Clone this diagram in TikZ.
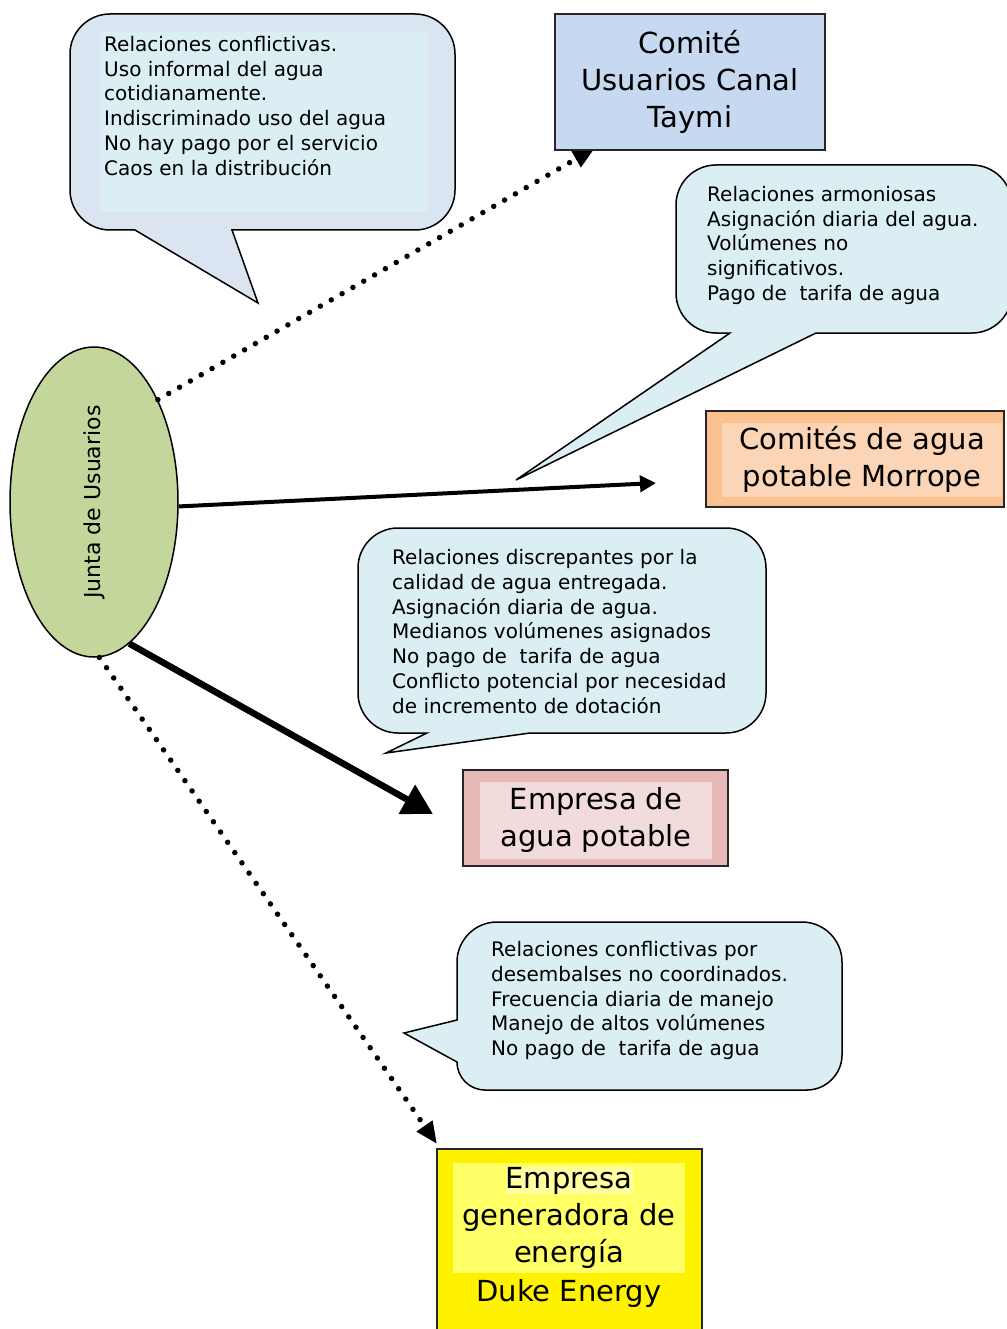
\documentclass[tikz,border=0pt]{standalone}
\usepackage{fontspec}
\setmainfont{DejaVu Sans}
\usetikzlibrary{arrows.meta}
\usetikzlibrary{shapes.geometric}
\definecolor{bubblegray}{HTML}{DBE5F1}
\definecolor{bubbleblue}{HTML}{DAEEF3}
\definecolor{taymiblue}{HTML}{C6D9F1}
\definecolor{morouter}{HTML}{FAC090}
\definecolor{morinner}{HTML}{FBD5B5}
\definecolor{aguouter}{HTML}{E6B9B8}
\definecolor{aguinner}{HTML}{F2DCDB}
\definecolor{juntagreen}{HTML}{C3D69B}
\definecolor{dukinner}{HTML}{FFFF66}
\definecolor{duklight}{HTML}{FFFFA0}
\setlength{\fboxsep}{0pt}
\tikzset{
    bubble/.style={draw=black, line width=1.5pt, fill=bubbleblue},
    note/.style={anchor=north west, inner sep=0pt, align=left,
        font=\fontsize{20}{24.8}\selectfont},
    actor/.style={draw=black!85, line width=1.8pt, inner sep=0pt},
    boxlabel/.style={inner sep=0pt, align=center,
        font=\fontsize{29}{37}\selectfont},
    dots/.style={line width=5.5pt, line cap=round, dash pattern=on 0pt off 12.5pt}
}
\begin{document}
\begin{tikzpicture}[x=1pt,y=-1pt]
    \useasboundingbox (0,0) rectangle (1006,1329);

    % callouts
    \draw[bubble, fill=bubblegray] (232,230) -- (258,303) -- (135,230) -- (110,230) .. controls (88,230) and (70,212) .. (70,190) -- (70,54) .. controls (70,32) and (88,14) .. (110,14) -- (415,14) .. controls (437,14) and (455,32) .. (455,54) -- (455,190) .. controls (455,212) and (437,230) .. (415,230) -- cycle;
    \fill[bubbleblue] (100,32) rectangle (428,212);
    \node[note] (nTaymi) at (104,36) {Relaciones conflictivas.\\Uso informal del agua\\cotidianamente.\\Indiscriminado uso del agua\\No hay pago por el servicio\\Caos en la distribución};

    \draw[bubble] (730,333) -- (516,480) -- (816,333) -- (972,333) .. controls (994,333) and (1012,315) .. (1012,293) -- (1012,205) .. controls (1012,183) and (994,165) .. (972,165) -- (716,165) .. controls (694,165) and (676,183) .. (676,205) -- (676,293) .. controls (676,315) and (694,333) .. (716,333) -- cycle;
    \node[note] (nMorrope) at (707,186) {Relaciones armoniosas\\Asignación diaria del agua.\\Volúmenes no\\significativos.\\Pago de\ \ tarifa de agua};

    \draw[bubble] (427,733) -- (386,753) -- (530,733) -- (726,733) .. controls (748,733) and (766,715) .. (766,693) -- (766,568) .. controls (766,546) and (748,528) .. (726,528) -- (398,528) .. controls (376,528) and (358,546) .. (358,568) -- (358,693) .. controls (358,715) and (376,733) .. (398,733) -- cycle;
    \node[note] (nAgua) at (392,549) {Relaciones discrepantes por la\\calidad de agua entregada.\\Asignación diaria de agua.\\Medianos volúmenes asignados\\No pago de\ \ tarifa de agua\\Conflicto potencial por necesidad\\de incremento de dotación};

    \draw[bubble] (457,1062) -- (404,1033) -- (457,1020) -- (457,962) .. controls (457,940) and (475,922) .. (497,922) -- (802,922) .. controls (824,922) and (842,940) .. (842,962) -- (842,1055) .. controls (842,1074) and (826,1090) .. (807,1090) -- (485,1090) .. controls (469.5,1090) and (457,1077.5) .. (457,1062) -- cycle;
    \node[note] (nDuke) at (491,941) {Relaciones conflictivas por\\desembalses no coordinados.\\Frecuencia diaria de manejo\\Manejo de altos volúmenes\\No pago de\ \ tarifa de agua};

    % junta
    \node[ellipse, draw, line width=1.5pt, fill=juntagreen, minimum width=168, minimum height=310, inner sep=0pt] (jun) at (94,502) {\rotatebox{90}{\fontsize{22}{26}\selectfont Junta de Usuarios}};

    % arrows
    \coordinate (tayEnd) at (595,148);
    \coordinate (morEnd) at (656,483);
    \coordinate (aguEnd) at (433,814);
    \coordinate (dukEnd) at (437,1144);
    \draw[dots, -{Triangle[length=22pt,width=18pt]}] (jun.58) -- (tayEnd);
    \draw[line width=4pt, -{Triangle[length=16pt,width=16pt]}] (jun.-3) -- (morEnd);
    \draw[line width=6.5pt, -{Triangle[length=30pt,width=32pt]}] (jun.-76) -- (aguEnd);
    \draw[dots, -{Triangle[length=22pt,width=18pt]}] (jun.-88) -- (dukEnd);

    % boxes
    \node[actor, boxlabel, fill=taymiblue, minimum width=270, minimum height=136] (tay) at (690,82) {Comité\\Usuarios Canal\\Taymi};

    \node[actor, fill=morouter, minimum width=298, minimum height=96] (mor) at (855,459) {};
    \node[boxlabel, fill=morinner, minimum width=280, minimum height=74] (morT) at (862,459.5) {Comités de agua\\potable Morrope};

    \node[actor, fill=aguouter, minimum width=265, minimum height=96] (agu) at (595.5,818) {};
    \node[boxlabel, fill=aguinner, minimum width=232, minimum height=77] (aguT) at (596,820) {Empresa de\\agua potable};

    \node[actor, fill=yellow, minimum width=265, minimum height=200, anchor=north] (duk) at (569.5,1148) {};
    \node[boxlabel, fill=dukinner, minimum width=232, minimum height=110] (dukT) at (569,1217.5) {\colorbox{duklight}{Empresa}\\generadora de\\energía};
    \node[boxlabel] (dukN) at (569,1293.5) {Duke Energy};
\end{tikzpicture}
\end{document}
